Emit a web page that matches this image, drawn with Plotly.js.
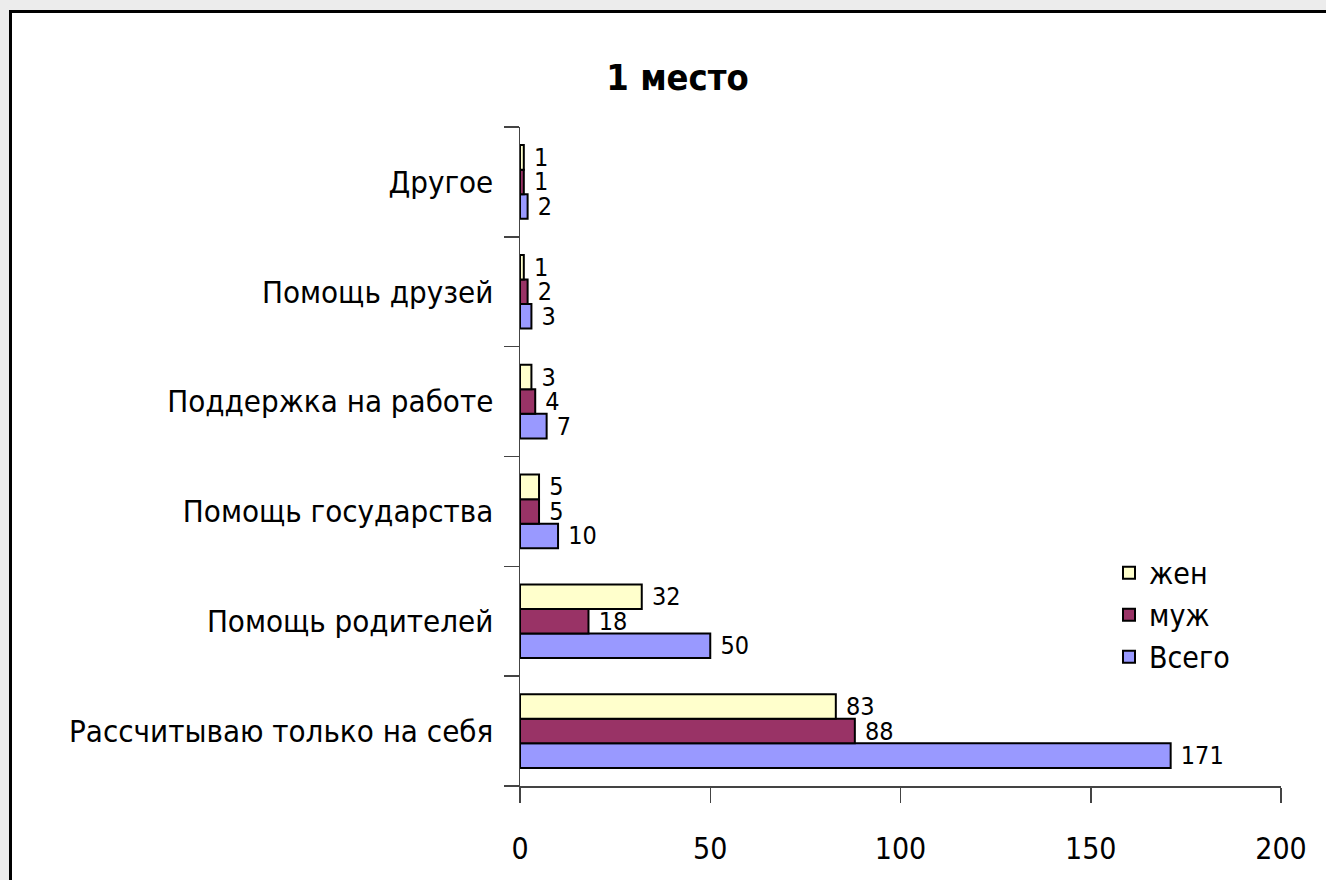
<!DOCTYPE html>
<html><head><meta charset="utf-8">
<script src="https://cdn.plot.ly/plotly-3.0.1.min.js"></script>
<style>
html,body{margin:0;padding:0;background:#ececec;width:1326px;height:880px;overflow:hidden;}
#frame{position:absolute;left:9px;top:10px;width:1330px;height:880px;background:#fff;border-left:3px solid #000;border-top:3px solid #000;}
#chart{position:absolute;left:0;top:0;width:1326px;height:880px;}
</style></head><body>
<div id="frame"></div>
<div id="chart"></div>
<script>
const categories = ["Рассчитываю только на себя", "Помощь родителей", "Помощь государства", "Поддержка на работе", "Помощь друзей", "Другое"];
const zhen = [83, 32, 5, 3, 1, 1];
const muzh = [88, 18, 5, 4, 2, 1];
const vsego = [171, 50, 10, 7, 3, 2];
const xTicks = [0, 50, 100, 150, 200];

const FONT = '"DejaVu Sans Condensed", "Liberation Sans Narrow", Arial, sans-serif';

function tr(name, vals, color) {
  return {
    type: 'bar', orientation: 'h', name: name, y: categories, x: vals,
    text: vals.map(v => ' ' + v), textposition: 'outside', cliponaxis: false,
    constraintext: 'none',
    textfont: {family: FONT, size: 25, color: '#000'},
    marker: {color: color, line: {color: '#000', width: 2}},
    hoverinfo: 'x+y'
  };
}

const data = [
  tr('Всего', vsego, '#9999FF'),
  tr('муж', muzh, '#993366'),
  tr('жен', zhen, '#FFFFCC')
];

const layout = {
  width: 1326, height: 880,
  paper_bgcolor: 'rgba(0,0,0,0)', plot_bgcolor: 'rgba(0,0,0,0)',
  margin: {l: 520, r: 45, t: 127, b: 94, pad: 0},
  font: {family: FONT, color: '#000'},
  barmode: 'group', bargap: 0.33, bargroupgap: 0,
  title: {text: '<b>1 место</b>', font: {family: FONT, size: 36, color: '#000'}, x: 0.511, xanchor: 'center', y: 0.912, yanchor: 'middle', xref: 'container', yref: 'container'},
  xaxis: {range: [0, 200], tickvals: xTicks, ticktext: xTicks.map(String), ticks: 'outside', ticklen: 15, tickcolor: '#444', tickwidth: 1.5,
          showline: true, linecolor: '#444', linewidth: 1.5, showgrid: false, zeroline: false,
          tickfont: {family: FONT, size: 30, color: '#000'}, ticklabelstandoff: 20, fixedrange: true},
  yaxis: {type: 'category', categoryorder: 'array', categoryarray: categories, range: [-0.5, 5.5],
          ticks: 'outside', ticklen: 15, tickcolor: '#444', tickwidth: 1.5, tickson: 'boundaries',
          showline: true, linecolor: '#444', linewidth: 1.5, showgrid: false, zeroline: false,
          tickfont: {family: FONT, size: 31, color: '#000'}, ticklabelstandoff: 19, fixedrange: true},
  legend: {x: 0.774, y: 0.363, xanchor: 'left', yanchor: 'top', traceorder: 'reversed',
           font: {family: FONT, size: 30, color: '#000'}, bgcolor: 'rgba(0,0,0,0)', itemwidth: 30, tracegroupgap: 0},
  showlegend: true
};

Plotly.newPlot('chart', data, layout, {displayModeBar: false, staticPlot: true});
</script>
</body></html>
